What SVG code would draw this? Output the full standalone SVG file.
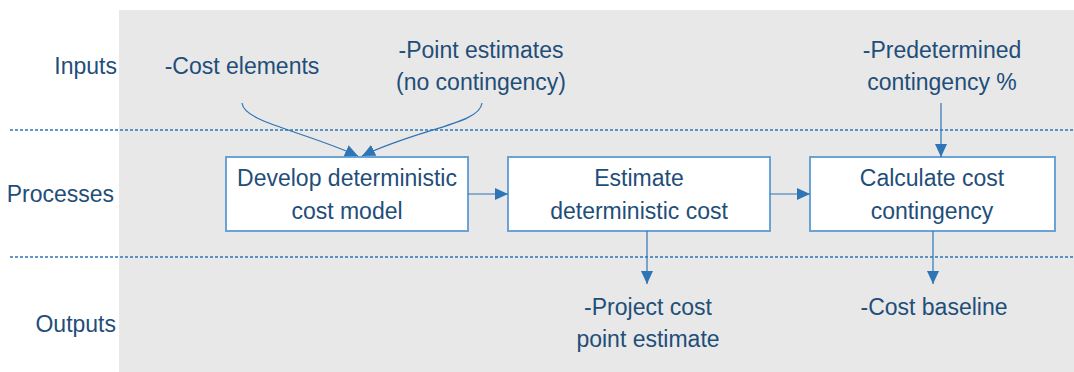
<svg xmlns="http://www.w3.org/2000/svg" width="1074" height="372" viewBox="0 0 1074 372">
  <style>
    text { font-family: "Liberation Sans", Arial, sans-serif; font-size: 23px; fill: #1F4E79; }
    .c { text-anchor: middle; }
    .r { text-anchor: end; }
    .box { fill: #FFFFFF; stroke: #5B9BD5; stroke-width: 1.8; }
    .sep { stroke: #2E75B6; stroke-width: 1.5; stroke-dasharray: 3 2; fill: none; }
    .conn { stroke: #2E75B6; stroke-width: 1.2; fill: none; marker-end: url(#ah); }
  </style>
  <defs>
    <marker id="ah" markerUnits="userSpaceOnUse" markerWidth="13" markerHeight="12" refX="13" refY="6" orient="auto">
      <path d="M0,0 L13,6 L0,12 z" fill="#2E75B6"/>
    </marker>
  </defs>

  <rect id="background" x="119" y="10" width="955" height="362" fill="#E8E8E8"/>
  <g id="separators">
    <line class="sep" x1="10" y1="130" x2="1074" y2="130"/>
    <line class="sep" x1="10" y1="257" x2="1074" y2="257"/>
  </g>

  <g id="lane-labels">
    <text class="r" x="117" y="74">Inputs</text>
    <text class="r" x="114" y="202">Processes</text>
    <text class="r" x="116" y="332">Outputs</text>
  </g>

  <g id="input-cost-elements">
    <text class="c" x="242" y="74">-Cost elements</text>
  </g>
  <g id="input-point-estimates">
    <text class="c" x="481" y="58">-Point estimates</text>
    <text class="c" x="481" y="90">(no contingency)</text>
  </g>
  <g id="input-predetermined">
    <text class="c" x="942" y="58">-Predetermined</text>
    <text class="c" x="942" y="90">contingency %</text>
  </g>

  <g id="node-develop">
    <rect class="box" x="226" y="157" width="242" height="74"/>
    <text class="c" x="347" y="186">Develop deterministic</text>
    <text class="c" x="347" y="219">cost model</text>
  </g>
  <g id="node-estimate">
    <rect class="box" x="508" y="157" width="262" height="74"/>
    <text class="c" x="639" y="186">Estimate</text>
    <text class="c" x="639" y="219">deterministic cost</text>
  </g>
  <g id="node-calculate">
    <rect class="box" x="810" y="157" width="245" height="74"/>
    <text class="c" x="932" y="186">Calculate cost</text>
    <text class="c" x="932" y="219">contingency</text>
  </g>

  <g id="output-project-cost">
    <text class="c" x="648" y="315">-Project cost</text>
    <text class="c" x="648" y="347">point estimate</text>
  </g>
  <g id="output-cost-baseline">
    <text class="c" x="934" y="315">-Cost baseline</text>
  </g>

  <g id="connectors">
    <path class="conn" d="M242,103 C244,122 300,130 358,156"/>
    <path class="conn" d="M482,103 C480,124 420,128 362,156"/>
    <path class="conn" d="M468,194 L508,194"/>
    <path class="conn" d="M770,194 L810,194"/>
    <path class="conn" d="M941,103 L941,157"/>
    <path class="conn" d="M647,231 L647,284"/>
    <path class="conn" d="M933,231 L933,284"/>
  </g>
</svg>
